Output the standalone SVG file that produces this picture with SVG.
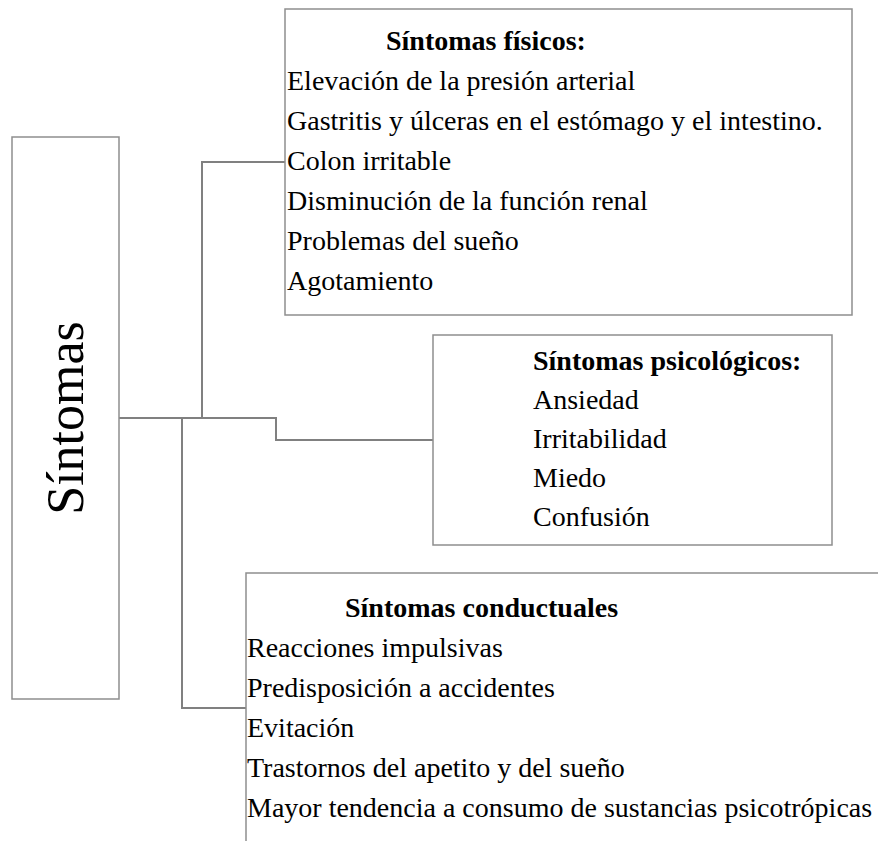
<svg xmlns="http://www.w3.org/2000/svg" width="878" height="841" viewBox="0 0 878 841">
<style>
.box{fill:#fff;stroke:#8e8e8e;stroke-width:1.5}
.con{fill:none;stroke:#808080;stroke-width:2}
text{font-family:"Liberation Serif","Times New Roman",serif;fill:#000}
.t{font-size:28px}
.h{font-size:28px;font-weight:bold}
.big{font-size:52px}
</style>
<rect x="0" y="0" width="878" height="841" fill="#fff"/>
<g id="connectors">
<path class="con" d="M119 418 H276 V440 H433"/>
<path class="con" d="M202 418 V162 H285"/>
<path class="con" d="M182 418 V708 H246"/>
</g>
<g id="sintomas">
<rect class="box" x="12" y="137" width="107" height="562"/>
<text class="big" text-anchor="middle" transform="translate(83,418) rotate(-90)">Síntomas</text>
</g>
<g id="fisicos">
<rect class="box" x="285" y="9" width="567" height="306"/>
<text class="h" x="386" y="50">Síntomas físicos:</text>
<text class="t" x="287" y="90">Elevación de la presión arterial</text>
<text class="t" x="287" y="130">Gastritis y úlceras en el estómago y el intestino.</text>
<text class="t" x="287" y="170">Colon irritable</text>
<text class="t" x="287" y="210">Disminución de la función renal</text>
<text class="t" x="287" y="250">Problemas del sueño</text>
<text class="t" x="287" y="290">Agotamiento</text>
</g>
<g id="psicologicos">
<rect class="box" x="433" y="335" width="399" height="210"/>
<text class="h" x="533" y="370">Síntomas psicológicos:</text>
<text class="t" x="533" y="409">Ansiedad</text>
<text class="t" x="533" y="448">Irritabilidad</text>
<text class="t" x="533" y="487">Miedo</text>
<text class="t" x="533" y="526">Confusión</text>
</g>
<g id="conductuales">
<rect class="box" x="246" y="573" width="700" height="400"/>
<text class="h" x="345" y="617">Síntomas conductuales</text>
<text class="t" x="247" y="657">Reacciones impulsivas</text>
<text class="t" x="247" y="697">Predisposición a accidentes</text>
<text class="t" x="247" y="737">Evitación</text>
<text class="t" x="247" y="777">Trastornos del apetito y del sueño</text>
<text class="t" x="247" y="817">Mayor tendencia a consumo de sustancias psicotrópicas</text>
</g>
</svg>
